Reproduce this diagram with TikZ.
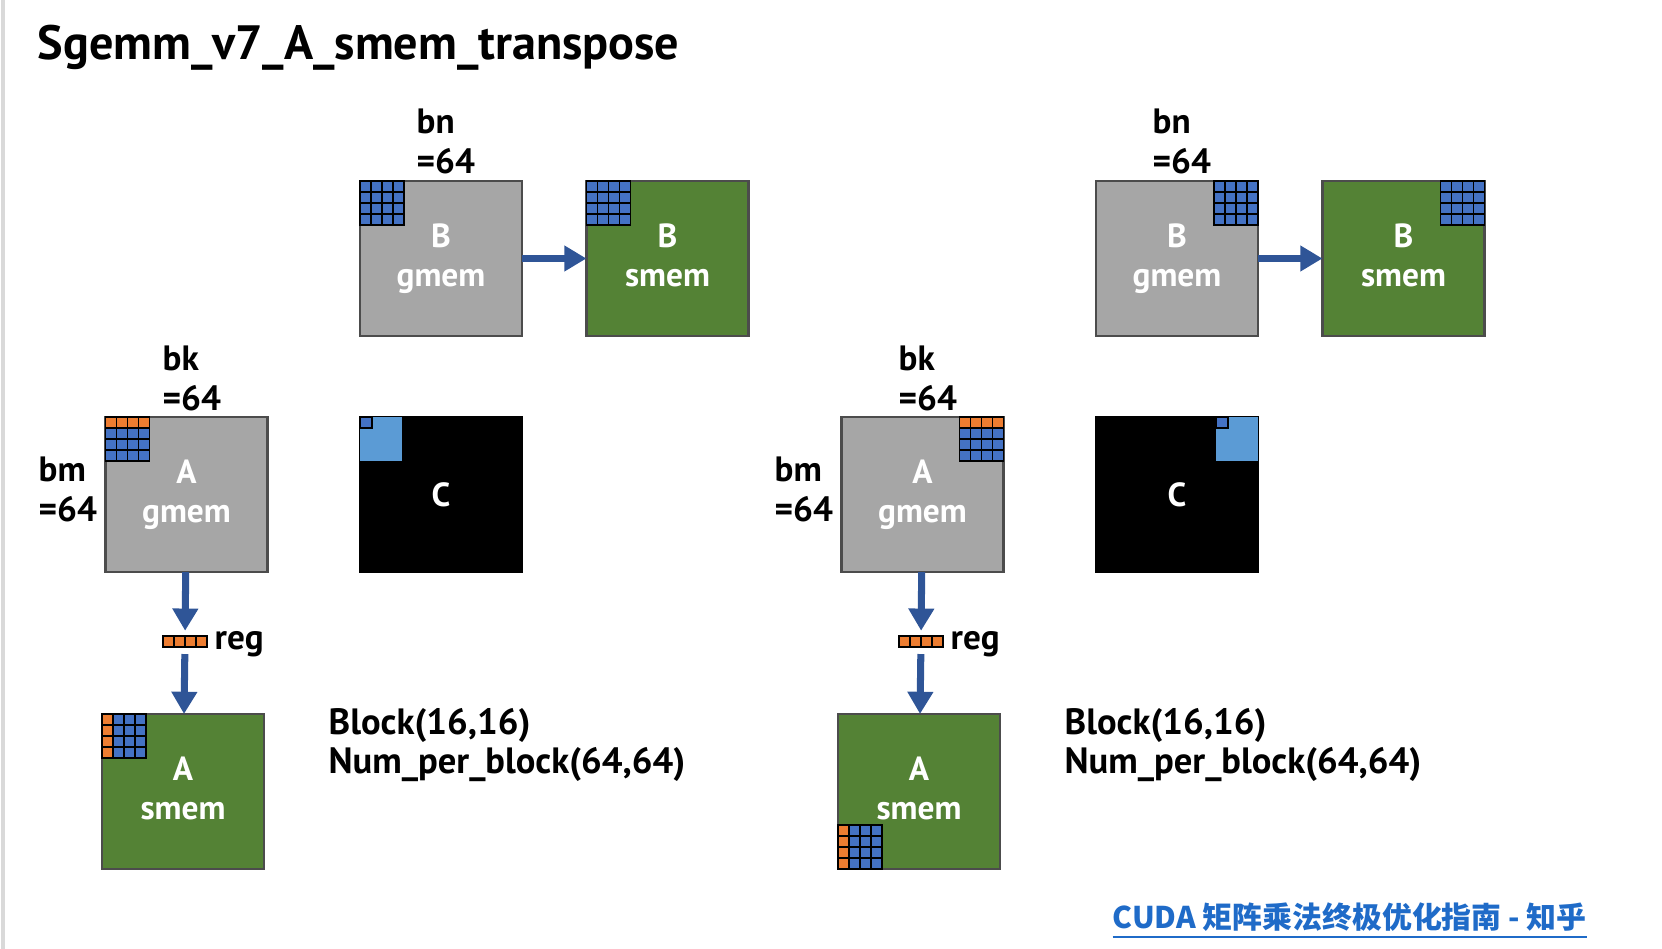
\documentclass[tikz,border=0pt]{standalone}
\usepackage{fontspec}
\setmainfont{PT Sans}
\newfontfamily\cjk{Noto Sans CJK SC}
\usetikzlibrary{arrows.meta}
\definecolor{gmemgray}{HTML}{A6A6A6}
\definecolor{smemgreen}{HTML}{548235}
\definecolor{cellblue}{HTML}{4472C4}
\definecolor{lightblue}{HTML}{5B9BD5}
\definecolor{cellorange}{HTML}{ED7D31}
\definecolor{flowblue}{HTML}{2F5597}
\definecolor{linkblue}{HTML}{1F6BC8}
% small 11px cells: corner, columns, rows, colour
\newcommand{\tile}[4]{%
  \foreach \i in {#2} \foreach \j in {#3}
    \draw[cell,fill=#4] ([shift={(\i*11,\j*11)}]#1) rectangle ++(11,11);}
\begin{document}
\begin{tikzpicture}[x=0.01cm,y=-0.01cm,
    mem/.style={draw=black!70,line width=0.6pt,minimum width=1.62cm,minimum height=1.55cm,
                inner sep=0pt,outer sep=0pt,text=white,align=center,
                font=\fontsize{9.5}{11}\selectfont\bfseries},
    gmem/.style={mem,fill=gmemgray},
    smem/.style={mem,fill=smemgreen},
    cmat/.style={mem,fill=black,draw=black},
    regbar/.style={draw=black,fill=cellorange,minimum width=0.44cm,minimum height=0.11cm,inner sep=0pt,outer sep=0pt},
    lbl/.style={inner sep=0pt,align=left,font=\fontsize{10}{11.4}\selectfont\bfseries},
    cfg/.style={inner sep=0pt,align=left,font=\fontsize{10.4}{11}\selectfont\bfseries},
    cell/.style={draw=black,line width=0.5pt},
    flow/.style={draw=flowblue,line width=2pt,-{Triangle[width=7pt,length=6.3pt]}}
  ]
  \useasboundingbox (0,0) rectangle (1662,949);
  \draw[black!15,line width=1pt] (3,0) -- (3,949);
  \node[anchor=base west,inner sep=0pt,font=\fontsize{13.7}{15}\selectfont\bfseries] (title) at (37,60) {Sgemm\_v7\_A\_smem\_transpose};

  % left: A stored as it is
  \node[gmem] (bgL) at (441,258.5) {B\\gmem};
  \node[smem] (bsL) at (667.5,258.5) {B\\smem\vphantom{g}};
  \node[gmem] (agL) at (186.5,494.5) {A\\gmem};
  \node[cmat] (cL) at (441,494.5) {C};
  \node[regbar] (regL) at (185,641.5) {};
  \node[smem] (asL) at (183,791.5) {A\\smem\vphantom{g}};
  \node[lbl,anchor=south west] (bnL) at (416,175) {bn\\=64};
  \node[lbl,anchor=south west] (bkL) at (162,412) {bk\\=64};
  \node[lbl,anchor=south west] (bmL) at (38,523) {bm\\=64};
  \node[lbl,anchor=base west] (regtL) at (214,650) {reg};
  \node[cfg,anchor=north west] (cfgL) at (328,708) {Block(16,16)\\Num\_per\_block(64,64)};

  % right: same, tiles in other corners
  \node[gmem] (bgR) at (1177,258.5) {B\\gmem};
  \node[smem] (bsR) at (1403.5,258.5) {B\\smem\vphantom{g}};
  \node[gmem] (agR) at (922.5,494.5) {A\\gmem};
  \node[cmat] (cR) at (1177,494.5) {C};
  \node[regbar] (regR) at (921,641.5) {};
  \node[smem] (asR) at (919,791.5) {A\\smem\vphantom{g}};
  \node[lbl,anchor=south west] (bnR) at (1152,175) {bn\\=64};
  \node[lbl,anchor=south west] (bkR) at (898,412) {bk\\=64};
  \node[lbl,anchor=south west] (bmR) at (774,523) {bm\\=64};
  \node[lbl,anchor=base west] (regtR) at (950,650) {reg};
  \node[cfg,anchor=north west] (cfgR) at (1064,708) {Block(16,16)\\Num\_per\_block(64,64)};

  \draw[flow] (bgL) -- (bsL);
  \draw[flow,shorten >=1.5pt] (agL) -- (regL);
  \draw[flow,shorten <=2pt] (regL) -- (asL);
  \draw[flow] (bgR) -- (bsR);
  \draw[flow,shorten >=1.5pt] (agR) -- (regR);
  \draw[flow,shorten <=2pt] (regR) -- (asR);

  \tile{bgL.north west}{0,...,3}{0,...,3}{cellblue}
  \tile{bsL.north west}{0,...,3}{0,...,3}{cellblue}
  \tile{agL.north west}{0,...,3}{0}{cellorange}
  \tile{agL.north west}{0,...,3}{1,2,3}{cellblue}
  \tile{asL.north west}{0}{0,...,3}{cellorange}
  \tile{asL.north west}{1,2,3}{0,...,3}{cellblue}
  \tile{regL.north west}{0,...,3}{0}{cellorange}
  \fill[lightblue] (cL.north west) rectangle ++(42,44);
  \draw[cell,fill=cellblue] (cL.north west) rectangle ++(12,11);

  \tile{bgR.north east}{-4,...,-1}{0,...,3}{cellblue}
  \tile{bsR.north east}{-4,...,-1}{0,...,3}{cellblue}
  \tile{agR.north east}{-4,...,-1}{0}{cellorange}
  \tile{agR.north east}{-4,...,-1}{1,2,3}{cellblue}
  \tile{asR.south west}{0}{-4,...,-1}{cellorange}
  \tile{asR.south west}{1,2,3}{-4,...,-1}{cellblue}
  \tile{regR.north west}{0,...,3}{0}{cellorange}
  \fill[lightblue] ([shift={(-42,0)}]cR.north east) rectangle ++(42,44);
  \draw[cell,fill=cellblue] ([shift={(-42,0)}]cR.north east) rectangle ++(12,11);

  \node[anchor=base west,inner sep=0pt,text=linkblue,font=\cjk\fontsize{8.5}{11}\selectfont\bfseries] (src) at (1112,929)
    {\underline{CUDA 矩阵乘法终极优化指南 - 知乎}};
\end{tikzpicture}
\end{document}
